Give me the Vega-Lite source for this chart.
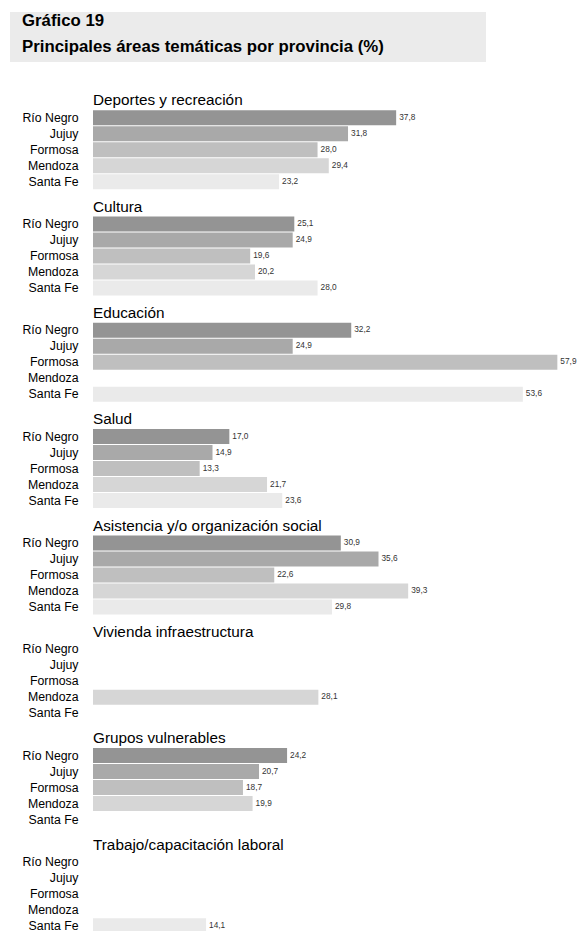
{
  "$schema": "https://vega.github.io/schema/vega-lite/v6.json",
  "padding": {"left": 10, "top": 12, "right": 0, "bottom": 0},
  "background": "white",
  "spacing": 30.7,
  "config": {
    "view": {"stroke": null},
    "font": "Liberation Sans",
    "title": {"anchor": "start", "frame": "group", "dx": 83, "offset": 1, "fontSize": 15.3, "fontWeight": "normal", "font": "Liberation Sans", "color": "black"},
    "scale": {"bandPaddingInner": 0.06, "bandPaddingOuter": 0.03},
    "locale": {"number": {"decimal": ",", "thousands": ".", "grouping": [3], "currency": ["", "$"]}}
  },
  "data": {"values": [
    {"area": "Deportes y recreación", "provincia": "Río Negro", "valor": 37.8},
    {"area": "Deportes y recreación", "provincia": "Jujuy", "valor": 31.8},
    {"area": "Deportes y recreación", "provincia": "Formosa", "valor": 28.0},
    {"area": "Deportes y recreación", "provincia": "Mendoza", "valor": 29.4},
    {"area": "Deportes y recreación", "provincia": "Santa Fe", "valor": 23.2},
    {"area": "Cultura", "provincia": "Río Negro", "valor": 25.1},
    {"area": "Cultura", "provincia": "Jujuy", "valor": 24.9},
    {"area": "Cultura", "provincia": "Formosa", "valor": 19.6},
    {"area": "Cultura", "provincia": "Mendoza", "valor": 20.2},
    {"area": "Cultura", "provincia": "Santa Fe", "valor": 28.0},
    {"area": "Educación", "provincia": "Río Negro", "valor": 32.2},
    {"area": "Educación", "provincia": "Jujuy", "valor": 24.9},
    {"area": "Educación", "provincia": "Formosa", "valor": 57.9},
    {"area": "Educación", "provincia": "Santa Fe", "valor": 53.6},
    {"area": "Salud", "provincia": "Río Negro", "valor": 17.0},
    {"area": "Salud", "provincia": "Jujuy", "valor": 14.9},
    {"area": "Salud", "provincia": "Formosa", "valor": 13.3},
    {"area": "Salud", "provincia": "Mendoza", "valor": 21.7},
    {"area": "Salud", "provincia": "Santa Fe", "valor": 23.6},
    {"area": "Asistencia y/o organización social", "provincia": "Río Negro", "valor": 30.9},
    {"area": "Asistencia y/o organización social", "provincia": "Jujuy", "valor": 35.6},
    {"area": "Asistencia y/o organización social", "provincia": "Formosa", "valor": 22.6},
    {"area": "Asistencia y/o organización social", "provincia": "Mendoza", "valor": 39.3},
    {"area": "Asistencia y/o organización social", "provincia": "Santa Fe", "valor": 29.8},
    {"area": "Vivienda infraestructura", "provincia": "Mendoza", "valor": 28.1},
    {"area": "Grupos vulnerables", "provincia": "Río Negro", "valor": 24.2},
    {"area": "Grupos vulnerables", "provincia": "Jujuy", "valor": 20.7},
    {"area": "Grupos vulnerables", "provincia": "Formosa", "valor": 18.7},
    {"area": "Grupos vulnerables", "provincia": "Mendoza", "valor": 19.9},
    {"area": "Trabajo/capacitación laboral", "provincia": "Santa Fe", "valor": 14.1}
  ]},
  "vconcat": [
    {
      "width": 476,
      "height": 50,
      "view": {"fill": "#ebebeb", "stroke": null},
      "data": {"values": [
        {"linea": 1, "texto": "Gráfico 19"},
        {"linea": 2, "texto": "Principales áreas temáticas por provincia (%)"}
      ]},
      "mark": {"type": "text", "align": "left", "baseline": "middle", "fontWeight": "bold", "fontSize": 16.8, "font": "Liberation Sans", "color": "black", "x": 12},
      "encoding": {
        "y": {"field": "linea", "type": "ordinal", "axis": null, "scale": {"range": [9, 35], "padding": 0}},
        "text": {"field": "texto"}
      }
    },
    {
      "spacing": 9.3,
      "vconcat": [
        {
          "title": "Deportes y recreación",
          "transform": [{"filter": {"field": "area", "equal": "Deportes y recreación"}}],
          "width": 571, "height": {"step": 16},
          "encoding": {
            "y": {"field": "provincia", "type": "nominal", "scale": {"domain": ["Río Negro", "Jujuy", "Formosa", "Mendoza", "Santa Fe"]}, "axis": {"title": null, "ticks": false, "domain": false, "offset": -83, "labelPadding": 15, "labelFontSize": 12.3, "labelColor": "black", "minExtent": 0}},
            "x": {"field": "valor", "type": "quantitative", "scale": {"domain": [-10.35, 60.85], "nice": false, "zero": false}, "axis": null}
          },
          "layer": [
            {"mark": {"type": "bar"}, "encoding": {"color": {"field": "provincia", "type": "nominal", "scale": {"domain": ["Río Negro", "Jujuy", "Formosa", "Mendoza", "Santa Fe"], "range": ["#949494", "#a9a9a9", "#bfbfbf", "#d6d6d6", "#eaeaea"]}, "legend": null}}},
            {"mark": {"type": "text", "align": "left", "baseline": "middle", "dx": 3, "fontSize": 8.3, "color": "#333333"}, "encoding": {"text": {"field": "valor", "type": "quantitative", "format": ".1f"}}}
          ]
        },
        {
          "title": "Cultura",
          "transform": [{"filter": {"field": "area", "equal": "Cultura"}}],
          "width": 571, "height": {"step": 16},
          "encoding": {
            "y": {"field": "provincia", "type": "nominal", "scale": {"domain": ["Río Negro", "Jujuy", "Formosa", "Mendoza", "Santa Fe"]}, "axis": {"title": null, "ticks": false, "domain": false, "offset": -83, "labelPadding": 15, "labelFontSize": 12.3, "labelColor": "black", "minExtent": 0}},
            "x": {"field": "valor", "type": "quantitative", "scale": {"domain": [-10.35, 60.85], "nice": false, "zero": false}, "axis": null}
          },
          "layer": [
            {"mark": {"type": "bar"}, "encoding": {"color": {"field": "provincia", "type": "nominal", "scale": {"domain": ["Río Negro", "Jujuy", "Formosa", "Mendoza", "Santa Fe"], "range": ["#949494", "#a9a9a9", "#bfbfbf", "#d6d6d6", "#eaeaea"]}, "legend": null}}},
            {"mark": {"type": "text", "align": "left", "baseline": "middle", "dx": 3, "fontSize": 8.3, "color": "#333333"}, "encoding": {"text": {"field": "valor", "type": "quantitative", "format": ".1f"}}}
          ]
        },
        {
          "title": "Educación",
          "transform": [{"filter": {"field": "area", "equal": "Educación"}}],
          "width": 571, "height": {"step": 16},
          "encoding": {
            "y": {"field": "provincia", "type": "nominal", "scale": {"domain": ["Río Negro", "Jujuy", "Formosa", "Mendoza", "Santa Fe"]}, "axis": {"title": null, "ticks": false, "domain": false, "offset": -83, "labelPadding": 15, "labelFontSize": 12.3, "labelColor": "black", "minExtent": 0}},
            "x": {"field": "valor", "type": "quantitative", "scale": {"domain": [-10.35, 60.85], "nice": false, "zero": false}, "axis": null}
          },
          "layer": [
            {"mark": {"type": "bar"}, "encoding": {"color": {"field": "provincia", "type": "nominal", "scale": {"domain": ["Río Negro", "Jujuy", "Formosa", "Mendoza", "Santa Fe"], "range": ["#949494", "#a9a9a9", "#bfbfbf", "#d6d6d6", "#eaeaea"]}, "legend": null}}},
            {"mark": {"type": "text", "align": "left", "baseline": "middle", "dx": 3, "fontSize": 8.3, "color": "#333333"}, "encoding": {"text": {"field": "valor", "type": "quantitative", "format": ".1f"}}}
          ]
        },
        {
          "title": "Salud",
          "transform": [{"filter": {"field": "area", "equal": "Salud"}}],
          "width": 571, "height": {"step": 16},
          "encoding": {
            "y": {"field": "provincia", "type": "nominal", "scale": {"domain": ["Río Negro", "Jujuy", "Formosa", "Mendoza", "Santa Fe"]}, "axis": {"title": null, "ticks": false, "domain": false, "offset": -83, "labelPadding": 15, "labelFontSize": 12.3, "labelColor": "black", "minExtent": 0}},
            "x": {"field": "valor", "type": "quantitative", "scale": {"domain": [-10.35, 60.85], "nice": false, "zero": false}, "axis": null}
          },
          "layer": [
            {"mark": {"type": "bar"}, "encoding": {"color": {"field": "provincia", "type": "nominal", "scale": {"domain": ["Río Negro", "Jujuy", "Formosa", "Mendoza", "Santa Fe"], "range": ["#949494", "#a9a9a9", "#bfbfbf", "#d6d6d6", "#eaeaea"]}, "legend": null}}},
            {"mark": {"type": "text", "align": "left", "baseline": "middle", "dx": 3, "fontSize": 8.3, "color": "#333333"}, "encoding": {"text": {"field": "valor", "type": "quantitative", "format": ".1f"}}}
          ]
        },
        {
          "title": "Asistencia y/o organización social",
          "transform": [{"filter": {"field": "area", "equal": "Asistencia y/o organización social"}}],
          "width": 571, "height": {"step": 16},
          "encoding": {
            "y": {"field": "provincia", "type": "nominal", "scale": {"domain": ["Río Negro", "Jujuy", "Formosa", "Mendoza", "Santa Fe"]}, "axis": {"title": null, "ticks": false, "domain": false, "offset": -83, "labelPadding": 15, "labelFontSize": 12.3, "labelColor": "black", "minExtent": 0}},
            "x": {"field": "valor", "type": "quantitative", "scale": {"domain": [-10.35, 60.85], "nice": false, "zero": false}, "axis": null}
          },
          "layer": [
            {"mark": {"type": "bar"}, "encoding": {"color": {"field": "provincia", "type": "nominal", "scale": {"domain": ["Río Negro", "Jujuy", "Formosa", "Mendoza", "Santa Fe"], "range": ["#949494", "#a9a9a9", "#bfbfbf", "#d6d6d6", "#eaeaea"]}, "legend": null}}},
            {"mark": {"type": "text", "align": "left", "baseline": "middle", "dx": 3, "fontSize": 8.3, "color": "#333333"}, "encoding": {"text": {"field": "valor", "type": "quantitative", "format": ".1f"}}}
          ]
        },
        {
          "title": "Vivienda infraestructura",
          "transform": [{"filter": {"field": "area", "equal": "Vivienda infraestructura"}}],
          "width": 571, "height": {"step": 16},
          "encoding": {
            "y": {"field": "provincia", "type": "nominal", "scale": {"domain": ["Río Negro", "Jujuy", "Formosa", "Mendoza", "Santa Fe"]}, "axis": {"title": null, "ticks": false, "domain": false, "offset": -83, "labelPadding": 15, "labelFontSize": 12.3, "labelColor": "black", "minExtent": 0}},
            "x": {"field": "valor", "type": "quantitative", "scale": {"domain": [-10.35, 60.85], "nice": false, "zero": false}, "axis": null}
          },
          "layer": [
            {"mark": {"type": "bar"}, "encoding": {"color": {"field": "provincia", "type": "nominal", "scale": {"domain": ["Río Negro", "Jujuy", "Formosa", "Mendoza", "Santa Fe"], "range": ["#949494", "#a9a9a9", "#bfbfbf", "#d6d6d6", "#eaeaea"]}, "legend": null}}},
            {"mark": {"type": "text", "align": "left", "baseline": "middle", "dx": 3, "fontSize": 8.3, "color": "#333333"}, "encoding": {"text": {"field": "valor", "type": "quantitative", "format": ".1f"}}}
          ]
        },
        {
          "title": "Grupos vulnerables",
          "transform": [{"filter": {"field": "area", "equal": "Grupos vulnerables"}}],
          "width": 571, "height": {"step": 16},
          "encoding": {
            "y": {"field": "provincia", "type": "nominal", "scale": {"domain": ["Río Negro", "Jujuy", "Formosa", "Mendoza", "Santa Fe"]}, "axis": {"title": null, "ticks": false, "domain": false, "offset": -83, "labelPadding": 15, "labelFontSize": 12.3, "labelColor": "black", "minExtent": 0}},
            "x": {"field": "valor", "type": "quantitative", "scale": {"domain": [-10.35, 60.85], "nice": false, "zero": false}, "axis": null}
          },
          "layer": [
            {"mark": {"type": "bar"}, "encoding": {"color": {"field": "provincia", "type": "nominal", "scale": {"domain": ["Río Negro", "Jujuy", "Formosa", "Mendoza", "Santa Fe"], "range": ["#949494", "#a9a9a9", "#bfbfbf", "#d6d6d6", "#eaeaea"]}, "legend": null}}},
            {"mark": {"type": "text", "align": "left", "baseline": "middle", "dx": 3, "fontSize": 8.3, "color": "#333333"}, "encoding": {"text": {"field": "valor", "type": "quantitative", "format": ".1f"}}}
          ]
        },
        {
          "title": "Trabajo/capacitación laboral",
          "transform": [{"filter": {"field": "area", "equal": "Trabajo/capacitación laboral"}}],
          "width": 571, "height": {"step": 16},
          "encoding": {
            "y": {"field": "provincia", "type": "nominal", "scale": {"domain": ["Río Negro", "Jujuy", "Formosa", "Mendoza", "Santa Fe"]}, "axis": {"title": null, "ticks": false, "domain": false, "offset": -83, "labelPadding": 15, "labelFontSize": 12.3, "labelColor": "black", "minExtent": 0}},
            "x": {"field": "valor", "type": "quantitative", "scale": {"domain": [-10.35, 60.85], "nice": false, "zero": false}, "axis": null}
          },
          "layer": [
            {"mark": {"type": "bar"}, "encoding": {"color": {"field": "provincia", "type": "nominal", "scale": {"domain": ["Río Negro", "Jujuy", "Formosa", "Mendoza", "Santa Fe"], "range": ["#949494", "#a9a9a9", "#bfbfbf", "#d6d6d6", "#eaeaea"]}, "legend": null}}},
            {"mark": {"type": "text", "align": "left", "baseline": "middle", "dx": 3, "fontSize": 8.3, "color": "#333333"}, "encoding": {"text": {"field": "valor", "type": "quantitative", "format": ".1f"}}}
          ]
        }
      ]
    }
  ]
}
